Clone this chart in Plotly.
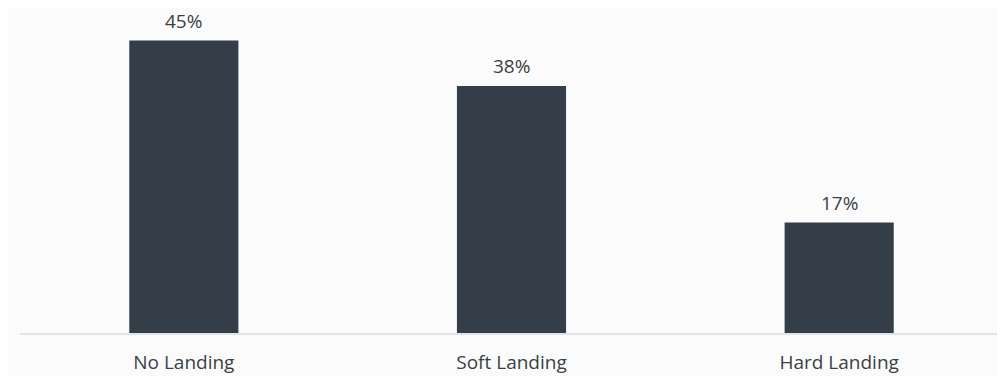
import plotly.graph_objects as go

categories = ["No Landing", "Soft Landing", "Hard Landing"]
values = [45, 38, 17]
labels = ["45%", "38%", "17%"]

fig = go.Figure(go.Bar(
    x=categories,
    y=values,
    marker=dict(color="#333e48", line=dict(width=0)),
    width=0.333,
    hoverinfo="skip",
))

for c, v, t in zip(categories, values, labels):
    fig.add_annotation(
        x=c, y=v, text=t, showarrow=False,
        yanchor="bottom", yshift=6, borderpad=0,
        font=dict(family="Open Sans", size=19, color="#3a3f45"),
    )

fig.update_layout(
    width=1005,
    height=376,
    margin=dict(l=12, r=10, t=0, b=51),
    paper_bgcolor="#fbfbfb",
    plot_bgcolor="#fbfbfb",
    showlegend=False,
    font=dict(family="Open Sans", size=19, color="#3a3f45"),
    xaxis=dict(
        range=[-0.5, 2.5],
        showline=True,
        linecolor="#dfe4ea",
        linewidth=2,
        showgrid=False,
        ticks="",
        ticklabelstandoff=11,
        tickfont=dict(family="Open Sans", size=19, color="#3a3f45"),
    ),
    yaxis=dict(
        range=[0, 50],
        visible=False,
        showgrid=False,
        zeroline=False,
    ),
)

fig.write_html("out.html")
